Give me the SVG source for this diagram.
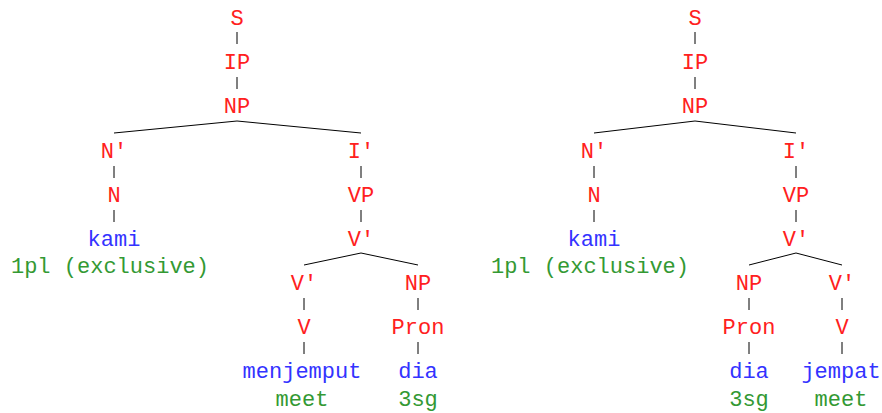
<svg xmlns="http://www.w3.org/2000/svg" width="882" height="413" viewBox="0 0 882 413">
  <style>
    text { font-family: "Liberation Mono", "Courier New", monospace; font-size: 22px; text-anchor: middle; }
    .cat { fill: #ff2020; }
    .word { fill: #3333ff; }
    .gloss { fill: #339933; }
    .edges line { stroke: #000000; stroke-width: 1; }
  </style>
  <rect width="882" height="413" fill="#ffffff"/>

  <!-- branches -->
  <g id="connectors" class="edges">
    <!-- tree 1 -->
    <line x1="237" y1="32" x2="237" y2="44"/>
    <line x1="237" y1="77" x2="237" y2="89"/>
    <line x1="237" y1="121" x2="114" y2="133"/>
    <line x1="237" y1="121" x2="361" y2="133"/>
    <line x1="114" y1="166" x2="114" y2="178"/>
    <line x1="114" y1="210" x2="114" y2="222"/>
    <line x1="361" y1="166" x2="361" y2="178"/>
    <line x1="361" y1="210" x2="361" y2="222"/>
    <line x1="361" y1="253" x2="304" y2="265"/>
    <line x1="361" y1="253" x2="418" y2="265"/>
    <line x1="304" y1="298" x2="304" y2="310"/>
    <line x1="304" y1="342" x2="304" y2="354"/>
    <line x1="418" y1="298" x2="418" y2="310"/>
    <line x1="418" y1="342" x2="418" y2="354"/>
    <!-- tree 2 -->
    <line x1="695" y1="32" x2="695" y2="44"/>
    <line x1="695" y1="77" x2="695" y2="89"/>
    <line x1="695" y1="121" x2="594" y2="133"/>
    <line x1="695" y1="121" x2="796" y2="133"/>
    <line x1="594" y1="166" x2="594" y2="178"/>
    <line x1="594" y1="210" x2="594" y2="222"/>
    <line x1="796" y1="166" x2="796" y2="178"/>
    <line x1="796" y1="210" x2="796" y2="222"/>
    <line x1="796" y1="253" x2="749" y2="265"/>
    <line x1="796" y1="253" x2="842" y2="265"/>
    <line x1="749" y1="298" x2="749" y2="310"/>
    <line x1="749" y1="342" x2="749" y2="354"/>
    <line x1="842" y1="298" x2="842" y2="310"/>
    <line x1="842" y1="342" x2="842" y2="354"/>
  </g>

  <!-- tree 1: kami menjemput dia -->
  <g id="t1-S"><text class="cat" x="237" y="25">S</text></g>
  <g id="t1-IP"><text class="cat" x="237" y="69">IP</text></g>
  <g id="t1-NP"><text class="cat" x="237" y="113">NP</text></g>
  <g id="t1-Nbar"><text class="cat" x="114" y="158">N'</text></g>
  <g id="t1-N"><text class="cat" x="114" y="202">N</text></g>
  <g id="t1-kami"><text class="word" x="114" y="246">kami</text><text class="gloss" x="110" y="273">1pl (exclusive)</text></g>
  <g id="t1-Ibar"><text class="cat" x="361" y="158">I'</text></g>
  <g id="t1-VP"><text class="cat" x="361" y="202">VP</text></g>
  <g id="t1-Vbar"><text class="cat" x="361" y="246">V'</text></g>
  <g id="t1-Vbar2"><text class="cat" x="304" y="290">V'</text></g>
  <g id="t1-V"><text class="cat" x="304" y="334">V</text></g>
  <g id="t1-menjemput"><text class="word" x="302" y="378">menjemput</text><text class="gloss" x="302" y="406">meet</text></g>
  <g id="t1-NP2"><text class="cat" x="418" y="290">NP</text></g>
  <g id="t1-Pron"><text class="cat" x="418" y="334">Pron</text></g>
  <g id="t1-dia"><text class="word" x="418" y="378">dia</text><text class="gloss" x="418" y="406">3sg</text></g>

  <!-- tree 2: kami dia jempat -->
  <g id="t2-S"><text class="cat" x="695" y="25">S</text></g>
  <g id="t2-IP"><text class="cat" x="695" y="69">IP</text></g>
  <g id="t2-NP"><text class="cat" x="695" y="113">NP</text></g>
  <g id="t2-Nbar"><text class="cat" x="594" y="158">N'</text></g>
  <g id="t2-N"><text class="cat" x="594" y="202">N</text></g>
  <g id="t2-kami"><text class="word" x="594" y="246">kami</text><text class="gloss" x="590" y="273">1pl (exclusive)</text></g>
  <g id="t2-Ibar"><text class="cat" x="796" y="158">I'</text></g>
  <g id="t2-VP"><text class="cat" x="796" y="202">VP</text></g>
  <g id="t2-Vbar"><text class="cat" x="796" y="246">V'</text></g>
  <g id="t2-NP2"><text class="cat" x="749" y="290">NP</text></g>
  <g id="t2-Pron"><text class="cat" x="749" y="334">Pron</text></g>
  <g id="t2-dia"><text class="word" x="749" y="378">dia</text><text class="gloss" x="749" y="406">3sg</text></g>
  <g id="t2-Vbar2"><text class="cat" x="842" y="290">V'</text></g>
  <g id="t2-V"><text class="cat" x="842" y="334">V</text></g>
  <g id="t2-jempat"><text class="word" x="841" y="378">jempat</text><text class="gloss" x="841" y="406">meet</text></g>
</svg>
